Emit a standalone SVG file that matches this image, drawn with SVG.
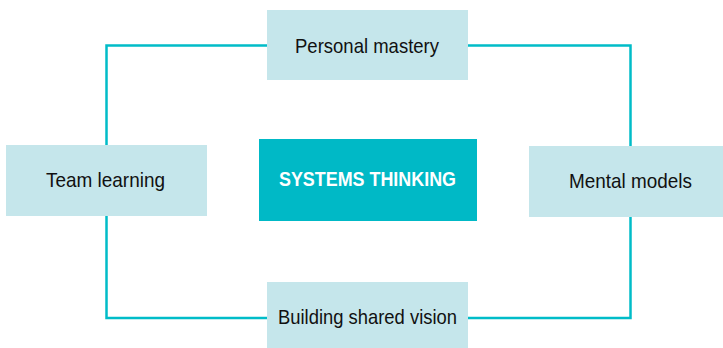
<svg xmlns="http://www.w3.org/2000/svg" width="723" height="348" viewBox="0 0 723 348">
<style>
.box{fill:#c5e6eb}
.core{fill:#00b9c6}
.lbl{font-family:"Liberation Sans",Arial,sans-serif;font-size:21px;fill:#111}
.core-lbl{font-family:"Liberation Sans",Arial,sans-serif;font-size:21px;font-weight:bold;fill:#fff}
.conn{fill:none;stroke:#00bcc8;stroke-width:2.5}
</style>
<rect width="723" height="348" fill="#fff"/>
<g id="connectors">
<rect class="conn" x="106.5" y="45.5" width="524" height="272.5"/>
</g>
<g id="personal-mastery">
<rect class="box" x="267" y="10" width="201" height="70"/>
<text class="lbl" x="295" y="53" textLength="144" lengthAdjust="spacingAndGlyphs">Personal mastery</text>
</g>
<g id="team-learning">
<rect class="box" x="6" y="145" width="201" height="71"/>
<text class="lbl" x="46" y="187" textLength="119" lengthAdjust="spacingAndGlyphs">Team learning</text>
</g>
<g id="systems-thinking">
<rect class="core" x="259" y="139" width="218" height="82"/>
<text class="core-lbl" x="279" y="186" textLength="177" lengthAdjust="spacingAndGlyphs">SYSTEMS THINKING</text>
</g>
<g id="mental-models">
<rect class="box" x="529" y="146" width="194" height="71"/>
<text class="lbl" x="569" y="188" textLength="123" lengthAdjust="spacingAndGlyphs">Mental models</text>
</g>
<g id="building-shared-vision">
<rect class="box" x="267" y="282" width="201" height="66"/>
<text class="lbl" x="278" y="324" textLength="179" lengthAdjust="spacingAndGlyphs">Building shared vision</text>
</g>
</svg>
